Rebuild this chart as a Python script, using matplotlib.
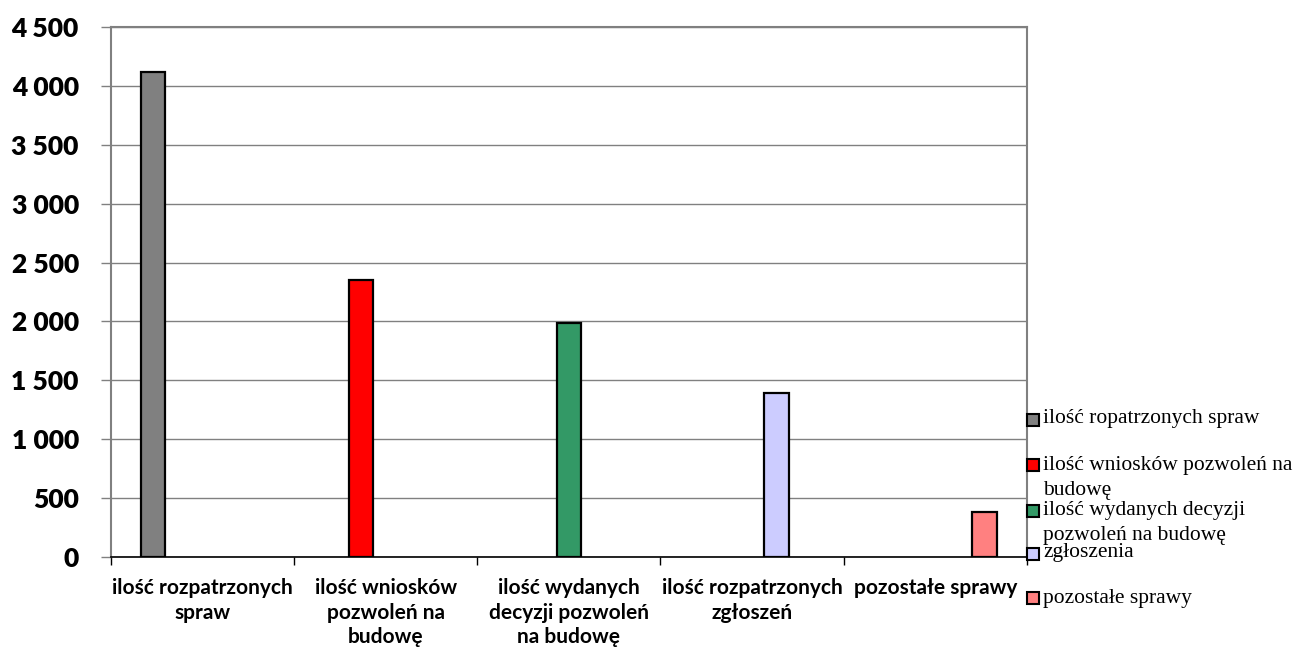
import matplotlib
matplotlib.use("Agg")
import matplotlib.pyplot as plt
from matplotlib.patches import Rectangle
from matplotlib.ticker import FuncFormatter, MultipleLocator, FixedLocator
import numpy as np

categories = ["ilość rozpatrzonych\nspraw", "ilość wniosków\npozwoleń na\nbudowę",
              "ilość wydanych\ndecyzji pozwoleń\nna budowę", "ilość rozpatrzonych\nzgłoszeń",
              "pozostałe sprawy"]
series_names = ["ilość ropatrzonych spraw", "ilość wniosków pozwoleń na\nbudowę",
                "ilość wydanych decyzji\npozwoleń na budowę", "zgłoszenia", "pozostałe sprawy"]
values = [4120, 2350, 1990, 1390, 380]
colors = ["#808080", "#FF0000", "#339966", "#CCCCFF", "#FF8080"]

SANS = ["Lato", "DejaVu Sans"]
SERIF = ["Liberation Serif", "DejaVu Serif"]

fig = plt.figure(figsize=(13, 6.52), dpi=100)
ax = fig.add_axes([110.7/1300, 1-557/652, (1027-110.7)/1300, (557-27)/652])

n = len(values)
x = np.arange(n)
w = 0.134
for i, (v, c) in enumerate(zip(values, colors)):
    ax.bar(x[i] + (i - (n-1)/2) * w, v, width=w, color=c, edgecolor="black", linewidth=1.6, zorder=3)

ax.set_xlim(-0.5, n - 0.5)
ax.set_ylim(0, 4500)
ax.yaxis.set_major_locator(MultipleLocator(500))
ax.yaxis.set_major_formatter(FuncFormatter(lambda v, p: f"{int(v):,}".replace(",", " ")))
ax.grid(axis="y", color="#808080", linewidth=1.0, zorder=0)
ax.set_axisbelow(True)

ax.set_xticks(x)
ax.set_xticklabels(categories, fontfamily=SANS, fontweight="bold",
                   fontsize=15, linespacing=1.3)
ax.xaxis.set_minor_locator(FixedLocator(np.arange(-0.5, n, 1.0)))
ax.tick_params(axis="x", which="major", length=0, pad=15)
ax.tick_params(axis="x", which="minor", length=6, width=1, color="black", direction="out")
ax.tick_params(axis="y", length=7, width=1, color="#808080", pad=16)
for lab in ax.get_yticklabels():
    lab.set_fontfamily(SANS)
    lab.set_fontweight("heavy")
    lab.set_fontsize(19)

for s in ["left", "right", "top"]:
    ax.spines[s].set_color("#808080")
    ax.spines[s].set_linewidth(1.5)
ax.spines["bottom"].set_color("black")
ax.spines["bottom"].set_linewidth(1.2)
ax.spines["bottom"].set_zorder(4)

# legend (manual, Excel-like)
leg_sq_y = [420, 465, 511, 554, 598]
leg_txt_y = [418, 478, 523, 553, 598]
for name, c, sy, ty in zip(series_names, colors, leg_sq_y, leg_txt_y):
    fig.patches.append(Rectangle((1027/1300, 1-(sy+6)/652), 12/1300, 12/652,
                                 facecolor=c, edgecolor="black", linewidth=1.5,
                                 transform=fig.transFigure, figure=fig, zorder=5))
    fig.text(1043/1300, 1-ty/652, name, fontfamily=SERIF,
             fontsize=15.5, va="center", ha="left", linespacing=1.4)

fig.savefig("out.png", dpi=100)
